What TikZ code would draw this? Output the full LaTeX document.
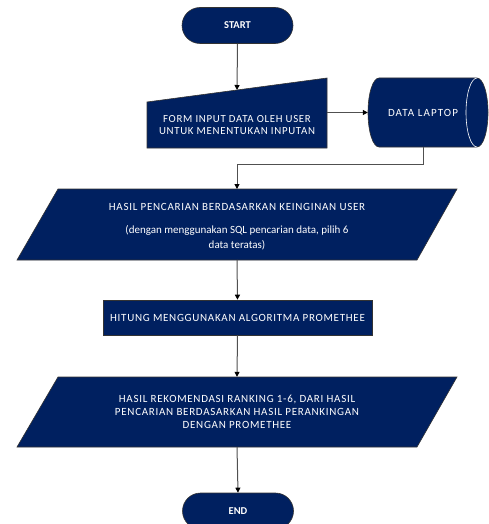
\documentclass[tikz,border=0pt]{standalone}
\usepackage{fontspec}
\setmainfont{Carlito}
\newfontfamily\capsfont[LetterSpace=6.5]{Carlito}
\newfontfamily\capswide[LetterSpace=10]{Carlito}
\usetikzlibrary{arrows.meta,calc}
\definecolor{navy}{HTML}{002060}
\definecolor{linec}{HTML}{505050}
\tikzset{
  shapefill/.style={fill=navy,draw=black!80,line width=0.6pt},
  lbl/.style={text=white,align=center,inner sep=0pt},
  conn/.style={draw=linec,line width=1pt,-{Triangle[length=5pt,width=5pt,color=black]}},
  term/.style={shapefill,rounded corners=18pt,minimum width=111pt,minimum height=36pt,lbl,font=\fontsize{10.5}{12}\selectfont\bfseries},
}
\begin{document}
\begin{tikzpicture}[x=1pt,y=-1pt]
\useasboundingbox (0,0) rectangle (488,524);
% START
\node[term] (start) at (237.5,25.5) {START};
% manual input
\fill[shapefill] (147,102) -- (327,78) -- (327,148) -- (147,148) -- cycle;
\node[lbl,minimum width=180pt,minimum height=46pt,font=\capsfont\fontsize{10.8}{12}\selectfont] (form) at (237,125.5) {FORM INPUT DATA OLEH USER\\UNTUK MENENTUKAN INPUTAN};
\coordinate (formtop) at (237,90);
% data laptop cylinder
\path[shapefill] (379,78) arc[start angle=-90,end angle=-270,x radius=11,y radius=34.5]
  -- (477,147) arc[start angle=90,end angle=-90,x radius=11,y radius=34.5] -- cycle;
\draw[white,line width=0.6pt] (477,78) arc[start angle=-90,end angle=-270,x radius=11,y radius=34.5];
\node[lbl,minimum width=110pt,minimum height=69pt,font=\capswide\fontsize{11}{12}\selectfont] (data) at (423,112.5) {DATA LAPTOP};
% parallelogram 1
\path[shapefill] (17,260) -- (58,189) -- (457,189) -- (417,260) -- cycle;
\coordinate (hasiltop) at (237,189);
\coordinate (hasilbot) at (237,260);
\node[lbl,font=\fontsize{11}{15}\selectfont] (hasil) at (237,227) {{\capsfont HASIL PENCARIAN BERDASARKAN KEINGINAN USER}\\[8pt](dengan menggunakan SQL pencarian data, pilih 6\\data teratas)};
% rectangle
\node[shapefill,lbl,minimum width=269pt,minimum height=35pt,font=\capsfont\fontsize{11}{12}\selectfont] (hitung) at (237.5,317.5) {HITUNG MENGGUNAKAN ALGORITMA PROMETHEE};
% parallelogram 2
\path[shapefill] (17,447) -- (58,377) -- (457,377) -- (417,447) -- cycle;
\node[lbl,minimum height=70pt,font=\capsfont\fontsize{11}{13}\selectfont] (rekom) at (237,412) {HASIL REKOMENDASI RANKING 1-6, DARI HASIL\\PENCARIAN BERDASARKAN HASIL PERANKINGAN\\DENGAN PROMETHEE};
% END
\node[term] (end) at (238,511) {END};
% connectors
\draw[conn] (start.south) -- (formtop);
\draw[conn] (form.east |- data.west) -- (data.west);
\draw[conn] (data.south) -- ++(0,17) -| (hasiltop);
\draw[conn] (hasilbot) -- (hitung.north);
\draw[conn] (hitung.south) -- (rekom.north);
\draw[conn] (rekom.south) -- (end.north);
\end{tikzpicture}
\end{document}
